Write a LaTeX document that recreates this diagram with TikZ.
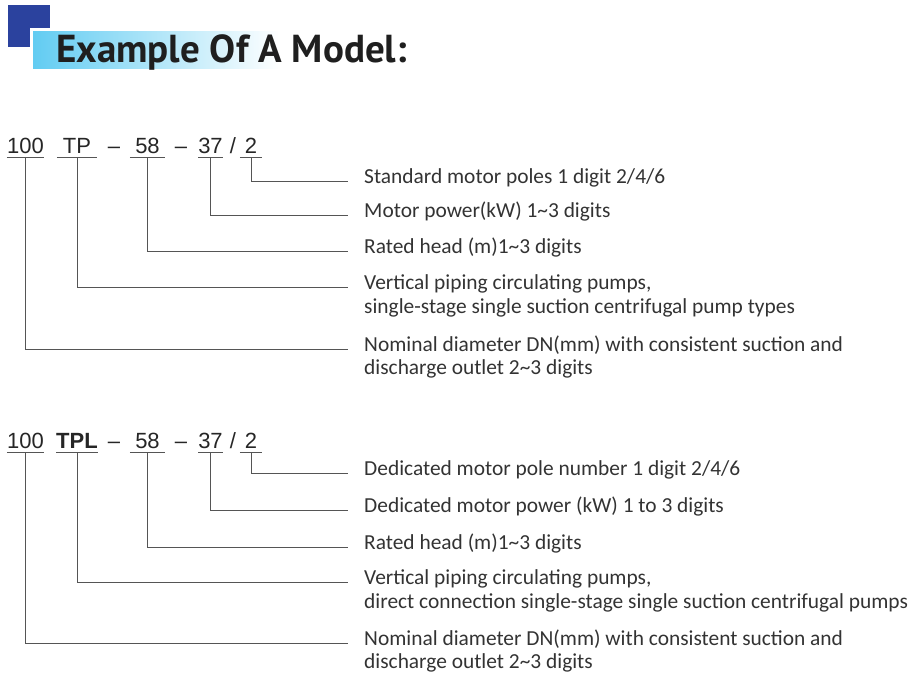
\documentclass[tikz,border=0pt]{standalone}
\usepackage{fontspec}
\setmainfont{Carlito}
\newfontfamily\codefont{Liberation Sans}
\newfontfamily\titlefont{PT Sans}
\usetikzlibrary{positioning}

\definecolor{darkblue}{HTML}{2B429E}
\definecolor{barblue}{HTML}{62CCF2}
\definecolor{inkgray}{HTML}{333333}
\definecolor{linegray}{HTML}{555555}

\pgfdeclarehorizontalshading{titlebar}{100bp}{color(0bp)=(barblue);
  color(25bp)=(barblue); color(58bp)=(white); color(100bp)=(white)}

\tikzset{
  code/.style={inner sep=0pt, text depth=4pt, anchor=base, text=black!85,
    font=\codefont\fontsize{22}{26}\selectfont},
  bold code/.style={code, font=\codefont\bfseries\fontsize{22}{26}\selectfont},
  lbl/.style={anchor=mid west, inner xsep=16pt, inner ysep=0pt, text=inkgray,
    font=\fontsize{21.4}{25}\selectfont},
  link/.style={draw=linegray, line width=0.9pt},
  uline/.style={draw=linegray, line width=1pt}
}

\begin{document}
\begin{tikzpicture}[x=1pt, y=-1pt]
\useasboundingbox (0,0) rectangle (913,680);

% Title
\fill[darkblue] (8,5) rectangle (50,47);
\fill[white] (30,28) rectangle (410,71);
\shade[shading=titlebar] (33,31) rectangle (407,68);
\node[anchor=base west, inner sep=0pt, text=black!88,
      font=\titlefont\bfseries\fontsize{39}{46}\selectfont] (title) at (56,62)
  {Example Of A Model:};

% First model
\begin{scope}
\node[code, minimum width=35pt] (a100) at (25.5,153) {100};
\node[code, minimum width=40pt] (aTP) at (77,153) {TP};
\node[code] (ad1) at (114,153) {–};
\node[code, minimum width=35pt] (a58) at (147.5,153) {58};
\node[code] (ad2) at (181,153) {–};
\node[code, minimum width=23pt] (a37) at (210.5,153) {37};
\node[code] (asl) at (233,153) {/};
\node[code, minimum width=22pt] (a2) at (251,153) {2};

\foreach \n in {a100,aTP,a58,a37,a2}
  \draw[uline] (\n.south west) -- (\n.south east);

\node[lbl] (apoles) at (348,181) {Standard motor poles 1 digit 2/4/6};
\node[lbl] (apower) at (348,215) {Motor power(kW) 1\textasciitilde3 digits};
\node[lbl] (ahead) at (348,251) {Rated head (m)1\textasciitilde3 digits};
\node[lbl] (atype) at (348,287) {Vertical piping circulating pumps,};
\node[lbl] (atype2) at ([yshift=-24pt]atype.mid west)
  {single-stage single suction centrifugal pump types};
\node[lbl] (adn) at (348,349)
  {Nominal diameter DN(mm) with consistent suction and};
\node[lbl] (adn2) at ([yshift=-23pt]adn.mid west)
  {discharge outlet 2\textasciitilde3 digits};

\draw[link] (a2.south) |- (apoles.mid west);
\draw[link] (a37.south) |- (apower.mid west);
\draw[link] (a58.south) |- (ahead.mid west);
\draw[link] (aTP.south) |- (atype.mid west);
\draw[link] (a100.south) |- (adn.mid west);
\end{scope}

% Second model
\begin{scope}[yshift=-295pt]
\node[code, minimum width=35pt] (b100) at (25.5,153) {100};
\node[bold code, minimum width=40pt] (bTPL) at (77,153) {TPL};
\node[code] (bd1) at (114,153) {–};
\node[code, minimum width=35pt] (b58) at (147.5,153) {58};
\node[code] (bd2) at (181,153) {–};
\node[code, minimum width=23pt] (b37) at (210.5,153) {37};
\node[code] (bsl) at (233,153) {/};
\node[code, minimum width=22pt] (b2) at (251,153) {2};

\foreach \n in {b100,bTPL,b58,b37,b2}
  \draw[uline] (\n.south west) -- (\n.south east);

\node[lbl] (bpoles) at (348,178) {Dedicated motor pole number 1 digit 2/4/6};
\node[lbl] (bpower) at (348,215) {Dedicated motor power (kW) 1 to 3 digits};
\node[lbl] (bhead) at (348,252) {Rated head (m)1\textasciitilde3 digits};
\node[lbl] (btype) at (348,287) {Vertical piping circulating pumps,};
\node[lbl] (btype2) at ([yshift=-24pt]btype.mid west)
  {direct connection single-stage single suction centrifugal pumps};
\node[lbl] (bdn) at (348,348)
  {Nominal diameter DN(mm) with consistent suction and};
\node[lbl] (bdn2) at ([yshift=-23pt]bdn.mid west)
  {discharge outlet 2\textasciitilde3 digits};

\draw[link] (b2.south) |- (bpoles.mid west);
\draw[link] (b37.south) |- (bpower.mid west);
\draw[link] (b58.south) |- (bhead.mid west);
\draw[link] (bTPL.south) |- (btype.mid west);
\draw[link] (b100.south) |- (bdn.mid west);
\end{scope}
\end{tikzpicture}
\end{document}
